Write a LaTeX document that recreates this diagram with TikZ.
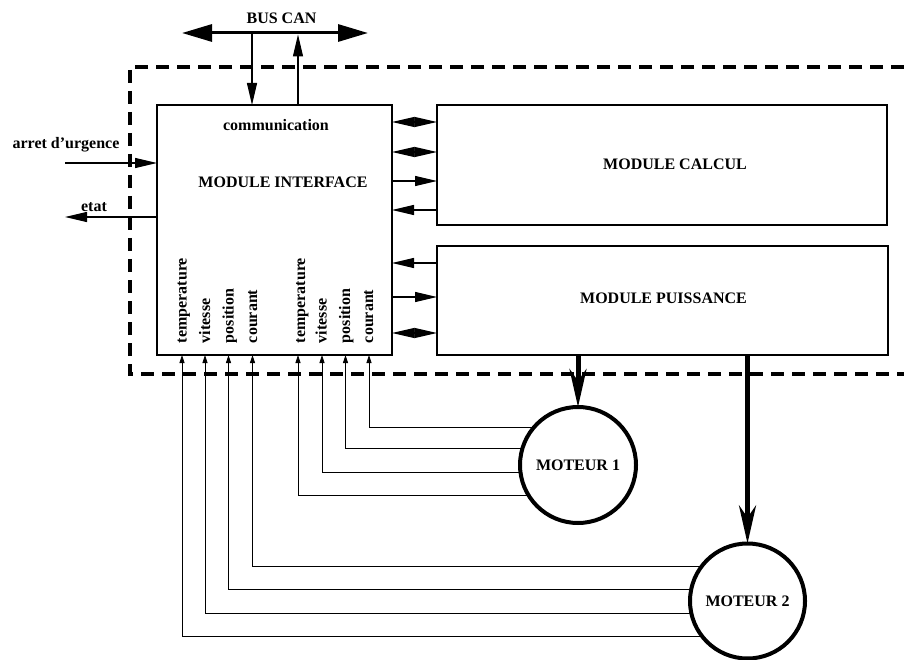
\documentclass[tikz,border=0pt]{standalone}
\usepackage{fontspec}
\setmainfont{Liberation Serif}
\usetikzlibrary{arrows.meta,calc}
\begin{document}
\begin{tikzpicture}[x=1pt,y=-1pt,
  every node/.style={font=\bfseries\fontsize{16}{18}\selectfont, inner sep=0pt, outer sep=0pt},
  modbox/.style={draw, line width=2pt, inner sep=0pt, outer sep=0pt},
  motor/.style={draw, circle, line width=4pt, inner sep=0pt, outer sep=0pt},
  vlabel/.style={rotate=90, anchor=west, text height=11pt, text depth=3pt},
  sig/.style={line width=1.2pt, -{Triangle[length=22pt,width=10pt]}},
  dblsig/.style={line width=1.2pt, {Triangle[length=22.6pt,width=10pt]}-{Triangle[length=22.6pt,width=10pt]}},
  wire/.style={line width=0.8pt, -{Triangle[length=8pt,width=5pt]}},
  power/.style={line width=5pt, -{Stealth[length=38pt,width=17pt,inset=12pt]}},
  frame/.style={line width=3.3pt, dash pattern=on 13pt off 8pt}
]
\useasboundingbox (0,0) rectangle (904,660);

% dashed enclosure (continues past the right edge)
\draw[frame] (904,67) -- (130,67) -- (130,374) -- (904,374);

% modules
\node[modbox, minimum width=235pt, minimum height=250pt] (ifc) at (274.5,230) {};
\node (comm) at (276,125) {communication};
\node (ifct) at (283,182) {MODULE INTERFACE};
\node[modbox, minimum width=450pt, minimum height=120pt] (calc) at (662,165) {};
\node (calct) at (675,164) {MODULE CALCUL};
\node[modbox, minimum width=451pt, minimum height=109pt] (puis) at (662.5,300.5) {};
\node (puist) at (663.5,298.5) {MODULE PUISSANCE};

% motors
\node[motor, minimum size=116pt] (m1) at (578,465) {MOTEUR 1};
\node[motor, minimum size=115pt] (m2) at (747.5,601) {MOTEUR 2};

% bus CAN
\coordinate (busL) at (182,33);
\coordinate (busR) at (368,33);
\draw[line width=3pt, {Triangle[length=30pt,width=17pt]}-{Triangle[length=30pt,width=17pt]}] (busL) -- (busR);
\node (bus) at (281.5,18) {BUS CAN};
\coordinate (b1) at (252,33);
\coordinate (b2) at (298,34.5);
\draw[sig] (b1) -- (b1 |- ifc.north);
\draw[sig] (b2 |- ifc.north) -- (b2);

% interface <-> calcul
\coordinate (c1) at ($(calc.north west)+(0,17)$);
\coordinate (c2) at ($(calc.north west)+(0,47)$);
\coordinate (c3) at ($(calc.north west)+(0,76)$);
\coordinate (c4) at ($(calc.north west)+(0,105)$);
\draw[dblsig] (ifc.east |- c1) -- (c1);
\draw[dblsig] (ifc.east |- c2) -- (c2);
\draw[sig] (ifc.east |- c3) -- (c3);
\draw[sig] (c4) -- (ifc.east |- c4);

% interface <-> puissance
\coordinate (p1) at ($(puis.north west)+(0,17)$);
\coordinate (p2) at ($(puis.north west)+(0,51)$);
\coordinate (p3) at ($(puis.north west)+(0,87)$);
\draw[sig] (p1) -- (ifc.east |- p1);
\draw[sig] (ifc.east |- p2) -- (p2);
\draw[dblsig] (ifc.east |- p3) -- (p3);

% external signals
\coordinate (au) at (65,163);
\coordinate (et) at (65,217);
\node (aut) at (66,145) {arret d’urgence};
\node (ett) at (94,207) {etat};
\draw[sig] (au) -- (au -| ifc.west);
\draw[sig] (et -| ifc.west) -- (et);

% vertical labels
\node[vlabel] (l1) at (182.5,343) {temperature};
\node[vlabel] (l2) at (206,343) {vitesse};
\node[vlabel] (l3) at (229.5,343) {position};
\node[vlabel] (l4) at (253,343) {courant};
\node[vlabel] (l5) at (301,343) {temperature};
\node[vlabel] (l6) at (322.5,343) {vitesse};
\node[vlabel] (l7) at (346,343) {position};
\node[vlabel] (l8) at (369,343) {courant};

% measurement wires
\coordinate (t1) at ($(ifc.south west)+(25,0)$);
\coordinate (t2) at ($(ifc.south west)+(48,0)$);
\coordinate (t3) at ($(ifc.south west)+(71.5,0)$);
\coordinate (t4) at ($(ifc.south west)+(95.5,0)$);
\coordinate (t5) at ($(ifc.south west)+(141,0)$);
\coordinate (t6) at ($(ifc.south west)+(165,0)$);
\coordinate (t7) at ($(ifc.south west)+(188.5,0)$);
\coordinate (t8) at ($(ifc.south west)+(212,0)$);
\draw[wire] (m1.139.07) -| (t8);
\draw[wire] (m1.163.99) -| (t7);
\draw[wire] (m1.187.93) -| (t6);
\draw[wire] (m1.212.31) -| (t5);
\draw[wire] (m2.143.75) -| (t4);
\draw[wire] (m2.168.97) -| (t3);
\draw[wire] (m2.192.05) -| (t2);
\draw[wire] (m2.218.76) -| (t1);

% power lines
\draw[power] (puis.south -| m1) -- (m1.north);
\draw[power] (puis.south -| m2) -- (m2.north);
\end{tikzpicture}
\end{document}
